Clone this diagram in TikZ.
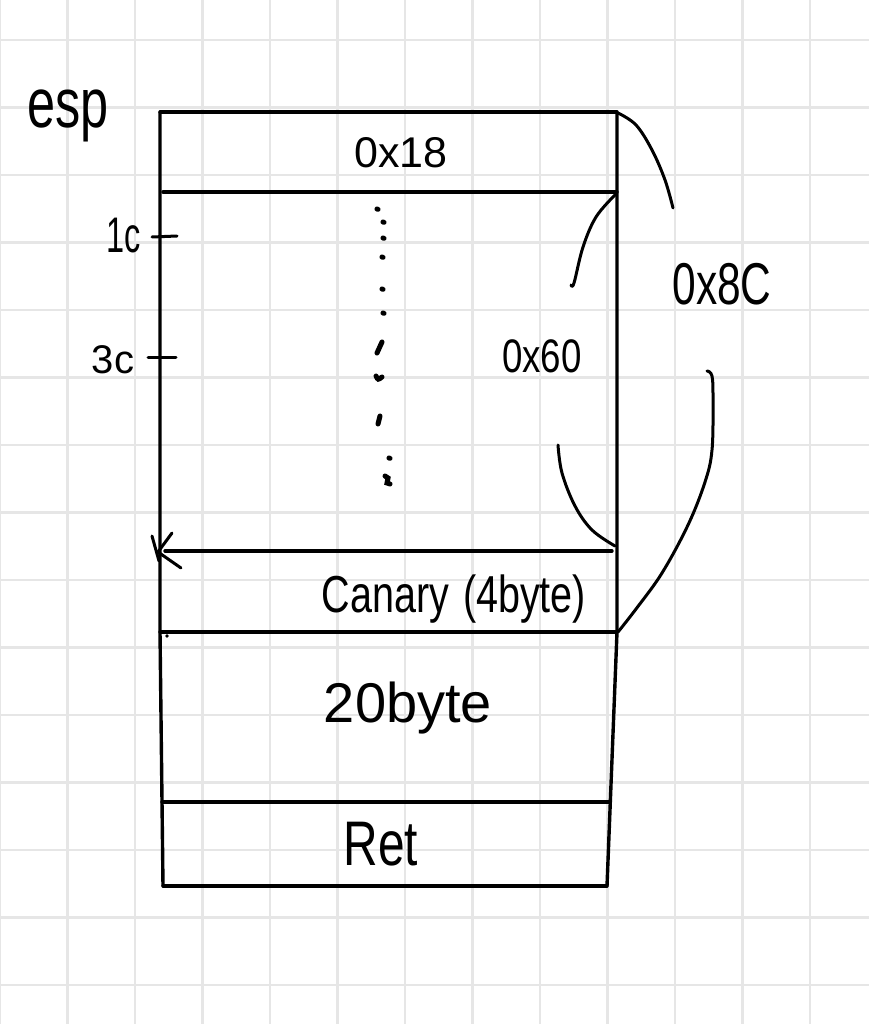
\documentclass[tikz,border=0pt]{standalone}
\usepackage{fontspec}
\usepackage{graphicx}
\setmainfont{Liberation Sans}
\usetikzlibrary{calc}
\newcommand{\hw}[3]{\fontsize{#1}{#1}\selectfont\scalebox{#2}[1]{#3}}
\definecolor{gridgray}{HTML}{E6E6E6}
\tikzset{
  gridline/.style={gridgray, line width=2.6pt},
  boxline/.style={black, line width=3.4pt, line cap=round, line join=round},
  handline/.style={black, line width=3pt, line cap=round, line join=round},
  dotmark/.style={black, line width=5pt, line cap=round},
  lbl/.style={inner sep=0pt, outer sep=0pt, anchor=base, text=black}
}
\begin{document}
\begin{tikzpicture}[x=1pt,y=-1pt]
\useasboundingbox (0,0) rectangle (869,1024);
\fill[white] (0,0) rectangle (869,1024);
% grid paper
\foreach \k in {0,...,12} { \draw[gridline] ({67.5*\k},0) -- ({67.5*\k},1024); }
\foreach \k in {0,...,14} { \draw[gridline] (0,{40+67.5*\k}) -- (869,{40+67.5*\k}); }

% corner coordinates
\coordinate (tl) at (160,112);
\coordinate (tr) at (617,112);
\coordinate (l1) at (163,192);
\coordinate (r1) at (617,192);
\coordinate (l2) at (165,551);
\coordinate (r2) at (612,551);
\coordinate (l3) at (160,632);
\coordinate (r3) at (617,632);
\coordinate (l4) at (162,802);
\coordinate (r4) at (610,802);
\coordinate (bl) at (163,886);
\coordinate (br) at (607,886);

% box
\draw[boxline] (tl) -- (tr);
\draw[boxline] (tl) -- (l3) -- (bl);
\draw[boxline] (tr) -- (r3) -- (br);
\draw[boxline] (l1) -- (r1);
\draw[boxline] (l2) -- (r2);
\draw[boxline] (l3) -- (r3);
\draw[boxline] (l4) -- (r4);
\draw[boxline] (bl) -- (br);

% hand arrow tip at left of canary line
\coordinate (tipa) at (172,533);
\coordinate (tipb) at (158,552);
\coordinate (tipc) at (181,568);
\draw[handline] (tipa) -- (tipb) -- (tipc);
\draw[handline] (152,536) -- (159,561);
\fill (167,636) circle (1.8);

% ticks
\coordinate (t1a) at (152,237);
\coordinate (t1b) at (177,236);
\coordinate (t3a) at (148,357);
\coordinate (t3b) at (176,357);
\draw[handline] (t1a) -- (t1b);
\draw[handline] (t3a) -- (t3b);

% dotted column
\foreach \p in {(377,209),(383,222),(383,238),(382,257),(382,289),(383,313),(389,458)} {
  \draw[dotmark] \p -- ++(1,0.4);
}
\draw[dotmark] (382,342) -- (377,353);
\draw[dotmark] (376,376) .. controls (378,380) .. (382,377);
\draw[dotmark] (380,416) -- (378,424);
\draw[dotmark] (385,476) -- (388,478) -- (387,483) -- (390,484);

% outer brace (0x8C)
\draw[handline] plot[smooth, tension=0.6] coordinates {(618,113) (636,125) (652,150) (665,180) (673,208)};
\draw[handline] plot[smooth, tension=0.6] coordinates {(707,371) (712,376) (713,400) (712,450) (705,482) (688,525) (662,573) (636,609) (618,632)};

% inner brace (0x60)
\draw[handline] plot[smooth, tension=0.6] coordinates {(615,195) (596,217) (583,247) (574,283) (571,285)};
\draw[handline] plot[smooth, tension=0.6] coordinates {(558,445) (562,473) (575,506) (592,530) (615,546)};

% labels
\node[lbl] (esp) at (68,128) {\hw{70}{0.72}{esp}};
\node[lbl] (h18) at (401,168) {\hw{43}{1}{0x18}};
\node[lbl] (c1c) at (124,252) {\hw{50}{0.65}{1c}};
\node[lbl] (c3c) at (113,373) {\hw{40}{1}{3c}};
\node[lbl] (h60) at (542,372) {\hw{47}{0.78}{0x60}};
\node[lbl] (h8c) at (722,304) {\hw{59}{0.72}{0x8C}};
\node[lbl] (can) at (454,612) {\hw{52}{0.76}{Canary\hspace{0.35em}(4byte)}};
\node[lbl] (b20) at (408,722) {\hw{56}{1}{20byte}};
\node[lbl] (ret) at (381,865) {\hw{63}{0.76}{Ret}};
\end{tikzpicture}
\end{document}
